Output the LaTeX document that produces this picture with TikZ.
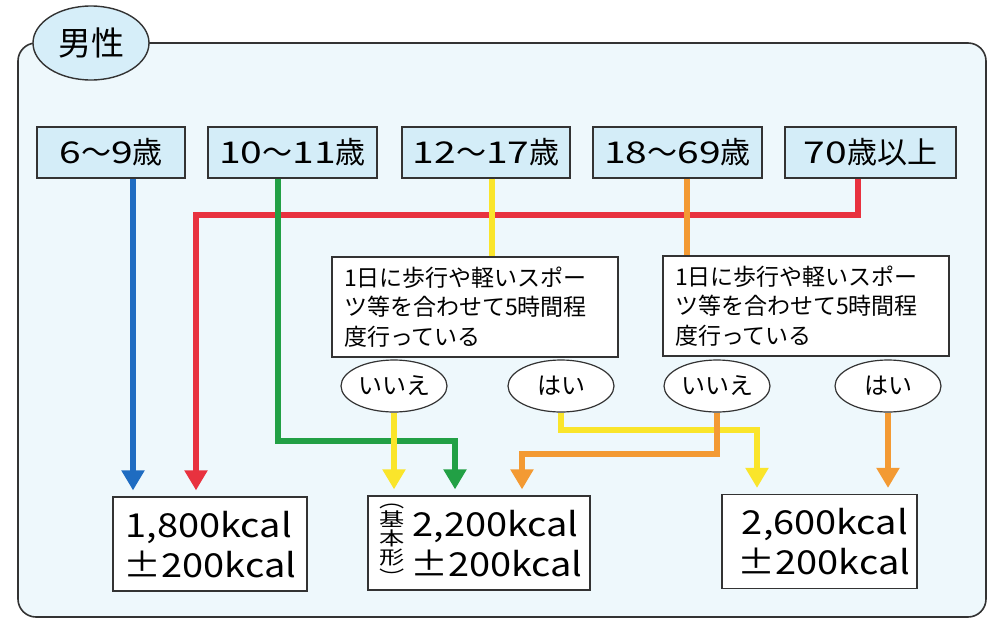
\documentclass[tikz,border=0pt]{standalone}
\usepackage{fontspec}
\setmainfont{Noto Sans CJK JP}
\newfontfamily\numA[FakeStretch=1.3]{Noto Sans CJK JP}
\newfontfamily\numB[FakeStretch=1.15]{Noto Sans CJK JP}
\usetikzlibrary{arrows.meta,shapes.geometric}
\definecolor{frameBg}{HTML}{EEF8FC}
\definecolor{ageBg}{HTML}{D4EDF8}
\definecolor{topBg}{HTML}{D6EEF9}
\definecolor{cBlue}{HTML}{1F6CC1}
\definecolor{cRed}{HTML}{E8323F}
\definecolor{cGreen}{HTML}{22A045}
\definecolor{cYellow}{HTML}{FAE52B}
\definecolor{cOrange}{HTML}{F39A33}
\definecolor{lineC}{HTML}{333333}
\tikzset{
  agebox/.style={draw=lineC, line width=1.2pt, fill=ageBg, minimum height=51pt, inner sep=0pt, font=\fontsize{30}{30}\selectfont},
  qbox/.style={draw=lineC, line width=1.2pt, fill=white, minimum width=286pt, minimum height=100pt, inner sep=0pt, text width=262pt, align=left, font=\fontsize{23}{29.5}\selectfont},
  ans/.style={draw=lineC, ellipse, line width=1.2pt, fill=white, minimum width=106pt, minimum height=52pt, inner sep=0pt, font=\fontsize{24}{24}\selectfont},
  kbox/.style={draw=lineC, line width=1.2pt, fill=white, inner sep=0pt, minimum height=94pt},
  ktext/.style={inner sep=0pt, align=center, font=\numB\fontsize{33}{40}\selectfont},
  conn/.style={line width=6pt, -{Triangle[width=22pt,length=20pt]}, shorten >=6pt},
  link/.style={line width=6pt},
}
\begin{document}
\begin{tikzpicture}[x=1pt,y=-1pt]
\useasboundingbox (0,0) rectangle (998,619);
\fill[white] (0,0) rectangle (998,619);
% frame
\draw[lineC, line width=1.6pt, fill=frameBg, rounded corners=18pt] (18,43) rectangle (986,617);
\node[draw=lineC, line width=1.4pt, ellipse, fill=topBg, minimum width=116pt, minimum height=74pt, inner sep=0pt, font=\fontsize{33}{33}\selectfont] (title) at (91,43) {男性};
% age boxes
\node[agebox, minimum width=148pt] (b1) at (111,152.5) {{\numA 6}〜{\numA 9}歳};
\node[agebox, minimum width=169pt] (b2) at (292.5,152.5) {{\numA 10}〜{\numA 11}歳};
\node[agebox, minimum width=168pt] (b3) at (486,152.5) {{\numA 12}〜{\numA 17}歳};
\node[agebox, minimum width=169pt] (b4) at (677.5,152.5) {{\numA 18}〜{\numA 69}歳};
\node[agebox, minimum width=171pt] (b5) at (870.5,152.5) {{\numA 70}歳以上};
% question boxes
\node[qbox] (q1) at (475,307) {1日に歩行や軽いスポー\\ツ等を合わせて5時間程\\度行っている};
\node[qbox] (q2) at (806,306) {1日に歩行や軽いスポー\\ツ等を合わせて5時間程\\度行っている};
% answers
\node[ans] (n1) at (394,386) {いいえ};
\node[ans] (y1) at (561,386) {はい};
\node[ans] (n2) at (717,386) {いいえ};
\node[ans] (y2) at (888,386) {はい};
% result boxes
\node[kbox, minimum width=194pt] (A) at (210,544) {};
\node[kbox, minimum width=222pt] (B) at (479,543) {};
\node[kbox, minimum width=195pt] (C) at (819.5,541.5) {};
\node[ktext] (At) at (210,545) {\makebox[164pt][r]{1,800kcal}\\\makebox[164pt]{±\hfill200kcal}};
\node[ktext] (Bt) at (496.5,544) {\makebox[164pt][r]{2,200kcal}\\\makebox[164pt]{±\hfill200kcal}};
\node[ktext] (Ct) at (824,542) {\makebox[168pt][r]{2,600kcal}\\\makebox[168pt]{±\hfill200kcal}};
\node[inner sep=0pt] (Bv) at (392,544) {\scalebox{1.05}[0.78]{\fontsize{24}{24}\selectfont\shortstack{︵\\基\\本\\形\\︶}}};
% turning points
\coordinate (rturn) at (196,215);
\coordinate (gturn) at (455,441);
\coordinate (yturn) at (757,430);
\coordinate (oturn) at (522,454);
% connectors
\draw[conn, cRed] ([xshift=-13pt]b5.south) |- (rturn) -- (rturn |- A.north);
\draw[conn, cBlue] ([xshift=22pt]b1.south) -- ([xshift=22pt]b1.south |- A.north);
\draw[conn, cGreen] ([xshift=-15pt]b2.south) |- (gturn) -- (gturn |- B.north);
\draw[link, cYellow] ([xshift=6pt]b3.south) -- ([xshift=6pt]b3.south |- q1.north);
\draw[conn, cYellow] (n1.south) -- (n1.south |- B.north);
\draw[conn, cYellow] (y1.south) |- (yturn) -- (yturn |- C.north);
\draw[link, cOrange] ([xshift=9pt]b4.south) -- ([xshift=9pt]b4.south |- q2.north);
\draw[conn, cOrange] (n2.south) |- (oturn) -- (oturn |- B.north);
\draw[conn, cOrange] (y2.south) -- (y2.south |- C.north);
\end{tikzpicture}
\end{document}
